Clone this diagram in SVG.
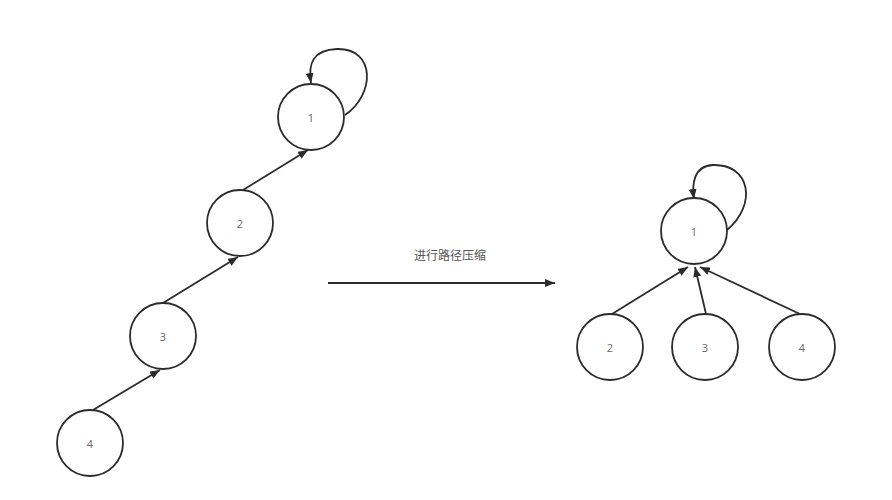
<svg xmlns="http://www.w3.org/2000/svg" width="892" height="500" viewBox="0 0 892 500">
<style>
.node circle{fill:#fff;stroke:#2b2b2b;stroke-width:1.8}
.node text{font-family:"Open Sans","Liberation Sans",sans-serif;font-size:11px;fill:#666;text-anchor:middle;dominant-baseline:central}
.edge{fill:none;stroke:#2b2b2b;stroke-width:1.8;marker-end:url(#arr)}
.lbl{font-family:"Noto Sans CJK SC","Noto Sans",sans-serif;font-size:12px;fill:#555;text-anchor:middle}
</style>
<defs>
<marker id="arr" markerUnits="userSpaceOnUse" markerWidth="10" markerHeight="8" refX="10" refY="4" orient="auto">
<path d="M0,0 L10,4 L0,8 z" fill="#2b2b2b"/>
</marker>
</defs>
<rect width="892" height="500" fill="#fff"/>
<g id="connectors">
<path class="edge" d="M345,115 C375,95 376,48 337,49 C313,50 308,63 311,83"/>
<line class="edge" x1="93" y1="410" x2="160" y2="370"/>
<line class="edge" x1="163" y1="303" x2="238" y2="257"/>
<line class="edge" x1="243" y1="190" x2="308" y2="150"/>
<line class="edge" x1="328" y1="283" x2="555" y2="283"/>
<path class="edge" d="M727,230 C757,205 751,164 713,165 C693,166 692,185 694,199"/>
<line class="edge" x1="612" y1="314" x2="688" y2="267"/>
<line class="edge" x1="706" y1="314" x2="695" y2="267"/>
<line class="edge" x1="800" y1="314" x2="700" y2="267"/>
</g>
<text class="lbl" x="450" y="260">进行路径压缩</text>
<g id="L1" class="node"><circle cx="311" cy="117" r="33"/><text x="311" y="117">1</text></g>
<g id="L2" class="node"><circle cx="240" cy="223" r="33"/><text x="240" y="223">2</text></g>
<g id="L3" class="node"><circle cx="163" cy="336" r="33"/><text x="163" y="336">3</text></g>
<g id="L4" class="node"><circle cx="90" cy="443" r="33"/><text x="90" y="443">4</text></g>
<g id="R1" class="node"><circle cx="694" cy="231" r="33"/><text x="694" y="231">1</text></g>
<g id="R2" class="node"><circle cx="610" cy="347" r="33"/><text x="610" y="347">2</text></g>
<g id="R3" class="node"><circle cx="705" cy="347" r="33"/><text x="705" y="347">3</text></g>
<g id="R4" class="node"><circle cx="802" cy="347" r="33"/><text x="802" y="347">4</text></g>
</svg>
